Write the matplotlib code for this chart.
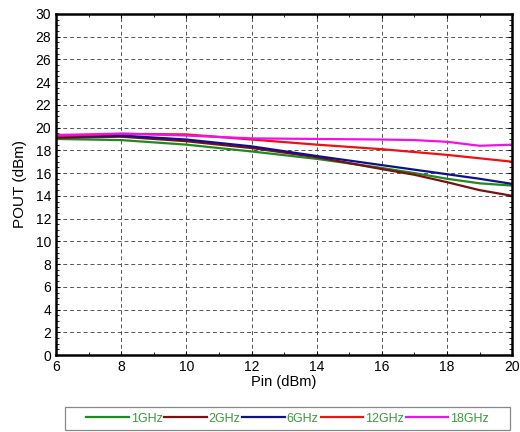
import matplotlib.pyplot as plt
from matplotlib.patches import Rectangle
from matplotlib.ticker import MultipleLocator

plt.rcParams['font.family'] = ['Liberation Sans', 'DejaVu Sans']

pin = [6, 8, 10, 12, 14, 16, 17, 18, 19, 20]
p_1ghz = [19.0, 18.9, 18.5, 17.9, 17.25, 16.45, 16.0, 15.5, 15.1, 14.9]
p_2ghz = [19.1, 19.2, 18.8, 18.2, 17.4, 16.35, 15.85, 15.2, 14.5, 14.0]
p_6ghz = [19.2, 19.3, 18.95, 18.35, 17.5, 16.7, 16.3, 15.9, 15.5, 15.05]
p_12ghz = [19.25, 19.45, 19.4, 18.95, 18.5, 18.1, 17.85, 17.6, 17.3, 17.0]
p_18ghz = [19.35, 19.47, 19.3, 19.05, 19.0, 18.95, 18.9, 18.75, 18.4, 18.5]

labels = ['1GHz', '2GHz', '6GHz', '12GHz', '18GHz']
colors = ['#1f8a1f', '#7a1010', '#10108a', '#ee1111', '#ee11ee']

fig = plt.figure(figsize=(5.2, 4.32), dpi=100)
ax = fig.add_axes([0.108, 0.178, 0.877, 0.79])

for vals, lab, c in zip([p_1ghz, p_2ghz, p_6ghz, p_12ghz, p_18ghz], labels, colors):
    ax.plot(pin, vals, color=c, lw=1.6, label=lab)

ax.set_xlim(6, 20)
ax.set_ylim(0, 30)
ax.xaxis.set_major_locator(MultipleLocator(2))
ax.yaxis.set_major_locator(MultipleLocator(2))
ax.xaxis.set_minor_locator(MultipleLocator(1))
ax.yaxis.set_minor_locator(MultipleLocator(0.5))
ax.tick_params(which='both', direction='in', top=True, right=True, labelsize=10)
ax.tick_params(which='major', length=3)
ax.tick_params(which='minor', length=2)
ax.grid(True, which='major', linestyle=(0, (4, 3)), color='#555555', lw=0.7)
for s in ax.spines.values():
    s.set_linewidth(1.8)

ax.set_xlabel('Pin (dBm)', fontsize=10.5, labelpad=1)
ax.set_ylabel('POUT (dBm)', fontsize=11, labelpad=6)

# legend box drawn separately, entries centred inside it
fig.patches.append(Rectangle((0.125, 0.005), 0.856, 0.053, transform=fig.transFigure,
                             fill=False, edgecolor='#888888', lw=0.9))
leg = fig.legend(loc='center', bbox_to_anchor=(0.553, 0.031), ncol=5, fontsize=9,
                 handlelength=3.4, handletextpad=0.15, columnspacing=0.15,
                 frameon=False, borderaxespad=0)
for t in leg.get_texts():
    t.set_color('#3a9a3a')

fig.savefig('out.png', dpi=100)
